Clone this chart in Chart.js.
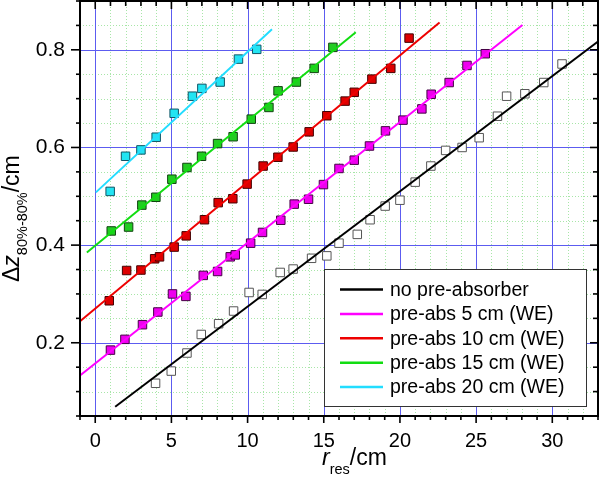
<!DOCTYPE html>
<html>
<head>
<meta charset="utf-8">
<script src="https://cdn.jsdelivr.net/npm/chart.js@4.4.1/dist/chart.umd.min.js"></script>
<style>
  html, body { margin: 0; padding: 0; background: #ffffff; }
  #wrap { width: 600px; height: 482px; overflow: hidden; position: relative; }
  #c { position: absolute; left: 0; top: -6px; }
</style>
</head>
<body>
<div id="wrap"><canvas id="c" width="605" height="488"></canvas></div>
<script>
// ---------- data ----------
const seriesLabels = ['no pre-absorber', 'pre-abs 5 cm (WE)', 'pre-abs 10 cm (WE)', 'pre-abs 15 cm (WE)', 'pre-abs 20 cm (WE)'];

const blackX = [3.96, 4.99, 6.02, 6.96, 8.1, 9.08, 10.1, 10.96, 12.14, 12.99, 14.2, 15.2, 16.0, 17.2, 18.04, 19.03, 20.0, 21.0, 22.03, 23.0, 24.08, 25.2, 26.4, 27.0, 28.2, 29.44, 30.64];
const blackY = [0.117, 0.142, 0.179, 0.217, 0.239, 0.265, 0.303, 0.299, 0.344, 0.351, 0.373, 0.378, 0.404, 0.422, 0.452, 0.480, 0.492, 0.529, 0.562, 0.594, 0.600, 0.620, 0.664, 0.705, 0.710, 0.733, 0.771];

const magX = [1.0, 1.95, 3.1, 4.11, 5.07, 5.95, 7.09, 8.03, 8.86, 9.19, 10.2, 10.98, 12.18, 13.06, 14.0, 14.98, 16.0, 17.0, 18.0, 19.05, 20.2, 21.44, 22.05, 23.23, 24.4, 25.6];
const magY = [0.185, 0.207, 0.237, 0.263, 0.300, 0.295, 0.338, 0.346, 0.376, 0.380, 0.404, 0.426, 0.451, 0.484, 0.494, 0.524, 0.557, 0.574, 0.603, 0.634, 0.656, 0.679, 0.709, 0.733, 0.768, 0.792];

const redX = [0.92, 2.06, 3.0, 3.9, 4.22, 5.18, 5.97, 7.17, 8.07, 9.03, 9.97, 11.02, 11.99, 12.99, 14.04, 15.2, 16.4, 17.0, 18.16, 19.4, 20.6];
const redY = [0.286, 0.348, 0.349, 0.372, 0.376, 0.396, 0.419, 0.452, 0.487, 0.495, 0.525, 0.562, 0.580, 0.601, 0.632, 0.665, 0.695, 0.713, 0.740, 0.762, 0.824];

const greenX = [1.05, 2.19, 3.06, 3.98, 5.03, 6.02, 6.98, 8.03, 9.05, 10.24, 11.4, 12.0, 13.2, 14.37, 15.6];
const greenY = [0.429, 0.437, 0.482, 0.498, 0.535, 0.559, 0.582, 0.608, 0.622, 0.658, 0.682, 0.716, 0.734, 0.762, 0.805];

const cyanX = [0.98, 1.99, 3.0, 4.0, 5.18, 6.38, 7.0, 8.2, 9.4, 10.6];
const cyanY = [0.510, 0.582, 0.595, 0.621, 0.670, 0.705, 0.721, 0.734, 0.781, 0.801];

// fitted lines: [x, y] endpoints
const fitBlack = [[1.31, 0.069], [33.0, 0.817]];
const fitMag   = [[-1.0, 0.133], [28.04, 0.851]];
const fitRed   = [[-1.0, 0.244], [22.6, 0.856]];
const fitGreen = [[-0.55, 0.385], [17.1, 0.836]];
const fitCyan  = [[0.04, 0.508], [11.6, 0.842]];

// axis ticks
const xMajorTicks = [0, 5, 10, 15, 20, 25, 30];
const xMinorTicks = [-1,0,1,2,3,4,5,6,7,8,9,10,11,12,13,14,15,16,17,18,19,20,21,22,23,24,25,26,27,28,29,30,31,32,33];
const yMajorTicks = [0.2, 0.4, 0.6, 0.8];
const yMinorTicks = [0.05,0.1,0.15,0.2,0.25,0.3,0.35,0.4,0.45,0.5,0.55,0.6,0.65,0.7,0.75,0.8,0.85,0.9];
const X_MIN = -1, X_MAX = 33, Y_MIN = 0.05, Y_MAX = 0.9;

// ---------- styling ----------
const FONT = '"Liberation Sans", Arial, Helvetica, sans-serif';
const OFFY = 6; // canvas is shifted up by this many px
const lineColors = ['#000000', '#ff00ff', '#ee0000', '#11dd11', '#22ddff'];
const fillColors = ['#ffffff', '#ee00ee', '#dd0000', '#22cc22', '#22e4f2'];
const edgeColors = ['#555555', '#440044', '#440000', '#114411', '#115566'];

const zip = (xs, ys) => xs.map((x, i) => ({ x: x, y: ys[i] }));
const pts = p => p.map(a => ({ x: a[0], y: a[1] }));

const pointSets = [zip(blackX, blackY), zip(magX, magY), zip(redX, redY), zip(greenX, greenY), zip(cyanX, cyanY)];
const fitSets = [pts(fitBlack), pts(fitMag), pts(fitRed), pts(fitGreen), pts(fitCyan)];

const datasets = [];
fitSets.forEach((d, i) => {
  datasets.push({
    type: 'line', label: seriesLabels[i], data: d, isFit: true,
    borderColor: lineColors[i], borderWidth: 2, pointRadius: 0, fill: false,
    tension: 0, order: 0
  });
});
pointSets.forEach((d, i) => {
  datasets.push({
    type: 'scatter', label: seriesLabels[i] + ' data', data: d, isFit: false,
    pointStyle: 'rect', pointRadius: 6, pointHoverRadius: 6,
    backgroundColor: fillColors[i], borderColor: edgeColors[i], borderWidth: 1,
    order: 1
  });
});

const isMaj = (arr, v) => arr.some(m => Math.abs(m - v) < 1e-6);

// ---------- plugins ----------
const gridPlugin = {
  id: 'gridPlugin',
  beforeDraw(chart) {
    const { ctx, chartArea: a, scales: { x, y } } = chart;
    ctx.save();
    ctx.lineWidth = 1;
    // minor dotted green
    ctx.strokeStyle = '#a8e6a8';
    ctx.setLineDash([1, 2]);
    xMinorTicks.forEach(v => {
      if (isMaj(xMajorTicks, v)) return;
      const px = Math.round(x.getPixelForValue(v)) + 0.5;
      ctx.beginPath(); ctx.moveTo(px, a.top); ctx.lineTo(px, a.bottom); ctx.stroke();
    });
    yMinorTicks.forEach(v => {
      if (isMaj(yMajorTicks, v)) return;
      const py = Math.round(y.getPixelForValue(v)) + 0.5;
      ctx.beginPath(); ctx.moveTo(a.left, py); ctx.lineTo(a.right, py); ctx.stroke();
    });
    // major solid blue
    ctx.setLineDash([]);
    ctx.strokeStyle = '#5c5cf0';
    xMajorTicks.forEach(v => {
      const px = Math.round(x.getPixelForValue(v)) + 0.5;
      ctx.beginPath(); ctx.moveTo(px, a.top); ctx.lineTo(px, a.bottom); ctx.stroke();
    });
    yMajorTicks.forEach(v => {
      const py = Math.round(y.getPixelForValue(v)) + 0.5;
      ctx.beginPath(); ctx.moveTo(a.left, py); ctx.lineTo(a.right, py); ctx.stroke();
    });
    ctx.restore();
  }
};

const frameAndTicks = {
  id: 'frameAndTicks',
  afterDraw(chart) {
    const { ctx, chartArea: a, scales: { x, y } } = chart;
    ctx.save();
    ctx.strokeStyle = '#000';
    ctx.lineWidth = 2;
    ctx.setLineDash([]);
    ctx.strokeRect(a.left, a.top, a.right - a.left, a.bottom - a.top);
    ctx.lineWidth = 1.6;
    xMinorTicks.forEach(v => {
      const px = x.getPixelForValue(v);
      const maj = isMaj(xMajorTicks, v);
      ctx.beginPath(); ctx.moveTo(px, a.bottom); ctx.lineTo(px, a.bottom + (maj ? 7 : 4)); ctx.stroke();
      ctx.beginPath(); ctx.moveTo(px, a.top); ctx.lineTo(px, a.top + (maj ? 8 : 5)); ctx.stroke();
    });
    yMinorTicks.forEach(v => {
      const py = y.getPixelForValue(v);
      const maj = isMaj(yMajorTicks, v);
      ctx.beginPath(); ctx.moveTo(a.left, py); ctx.lineTo(a.left - (maj ? 9 : 4), py); ctx.stroke();
      ctx.beginPath(); ctx.moveTo(a.right, py); ctx.lineTo(a.right - (maj ? 8 : 5), py); ctx.stroke();
    });
    ctx.restore();
  }
};

function drawParts(ctx, parts, startX, baseY) {
  let cx = startX;
  parts.forEach(p => {
    ctx.font = p.font;
    ctx.fillText(p.t, cx, baseY + (p.dy || 0));
    cx += ctx.measureText(p.t).width;
  });
}

const titles = {
  id: 'titles',
  afterDraw(chart) {
    const { ctx } = chart;
    ctx.save();
    ctx.fillStyle = '#000';
    ctx.textBaseline = 'alphabetic';
    ctx.textAlign = 'left';
    const yParts = [
      { t: 'Δ', font: '23px ' + FONT },
      { t: 'z', font: 'italic 23px ' + FONT },
      { t: '80%-80%', font: '14.5px ' + FONT, dy: 8 },
      { t: '/cm', font: '23px ' + FONT }
    ];
    ctx.save();
    ctx.translate(19, 282 + OFFY);
    ctx.rotate(-Math.PI / 2);
    drawParts(ctx, yParts, 0, 0);
    ctx.restore();
    const xParts = [
      { t: 'r', font: 'italic 23px ' + FONT },
      { t: 'res', font: '14.5px ' + FONT, dy: 9 },
      { t: '/cm', font: '23px ' + FONT }
    ];
    drawParts(ctx, xParts, 322, 465 + OFFY);
    ctx.restore();
  }
};

const boxLegend = {
  id: 'boxLegend',
  afterDraw(chart) {
    const { ctx } = chart;
    const fits = chart.data.datasets.filter(d => d.isFit);
    const L = 324, T = 269 + OFFY, R = 586, B = 406 + OFFY;
    ctx.save();
    ctx.fillStyle = '#ffffff';
    ctx.fillRect(L, T, R - L, B - T);
    ctx.strokeStyle = '#333333';
    ctx.lineWidth = 1;
    ctx.strokeRect(L + 0.5, T + 0.5, R - L, B - T);
    ctx.font = '19.5px ' + FONT;
    ctx.textBaseline = 'middle';
    ctx.textAlign = 'left';
    fits.forEach((d, i) => {
      const cy = 289.5 + OFFY + i * 24.4;
      ctx.strokeStyle = d.borderColor;
      ctx.lineWidth = 2.5;
      ctx.beginPath(); ctx.moveTo(340, cy); ctx.lineTo(383, cy); ctx.stroke();
      ctx.fillStyle = '#000';
      ctx.fillText(d.label, 390, cy + 1);
    });
    ctx.restore();
  }
};

// ---------- chart ----------
new Chart(document.getElementById('c'), {
  type: 'scatter',
  data: { datasets: datasets },
  options: {
    responsive: false,
    animation: false,
    devicePixelRatio: 1,
    layout: { padding: { left: 0, right: 0, top: 0, bottom: 0 } },
    plugins: { legend: { display: false }, tooltip: { enabled: false } },
    scales: {
      x: {
        type: 'linear', min: X_MIN, max: X_MAX,
        afterBuildTicks: s => { s.ticks = xMajorTicks.map(v => ({ value: v })); },
        afterFit: s => { s.height = 66; s.paddingLeft = 0; s.paddingRight = 0; },
        grid: { display: false, drawTicks: false },
        border: { display: false },
        ticks: {
          font: { size: 20, family: FONT }, color: '#000', padding: 13,
          maxRotation: 0, autoSkip: false,
          callback: v => String(v)
        }
      },
      y: {
        type: 'linear', min: Y_MIN, max: Y_MAX,
        afterBuildTicks: s => { s.ticks = yMajorTicks.map(v => ({ value: v })); },
        afterFit: s => { s.width = 80; s.paddingTop = 0; s.paddingBottom = 0; },
        grid: { display: false, drawTicks: false },
        border: { display: false },
        ticks: {
          font: { size: 21, family: FONT }, color: '#000', padding: 15,
          autoSkip: false,
          callback: v => Number(v).toFixed(1)
        }
      }
    }
  },
  plugins: [gridPlugin, frameAndTicks, titles, boxLegend]
});
</script>
</body>
</html>
